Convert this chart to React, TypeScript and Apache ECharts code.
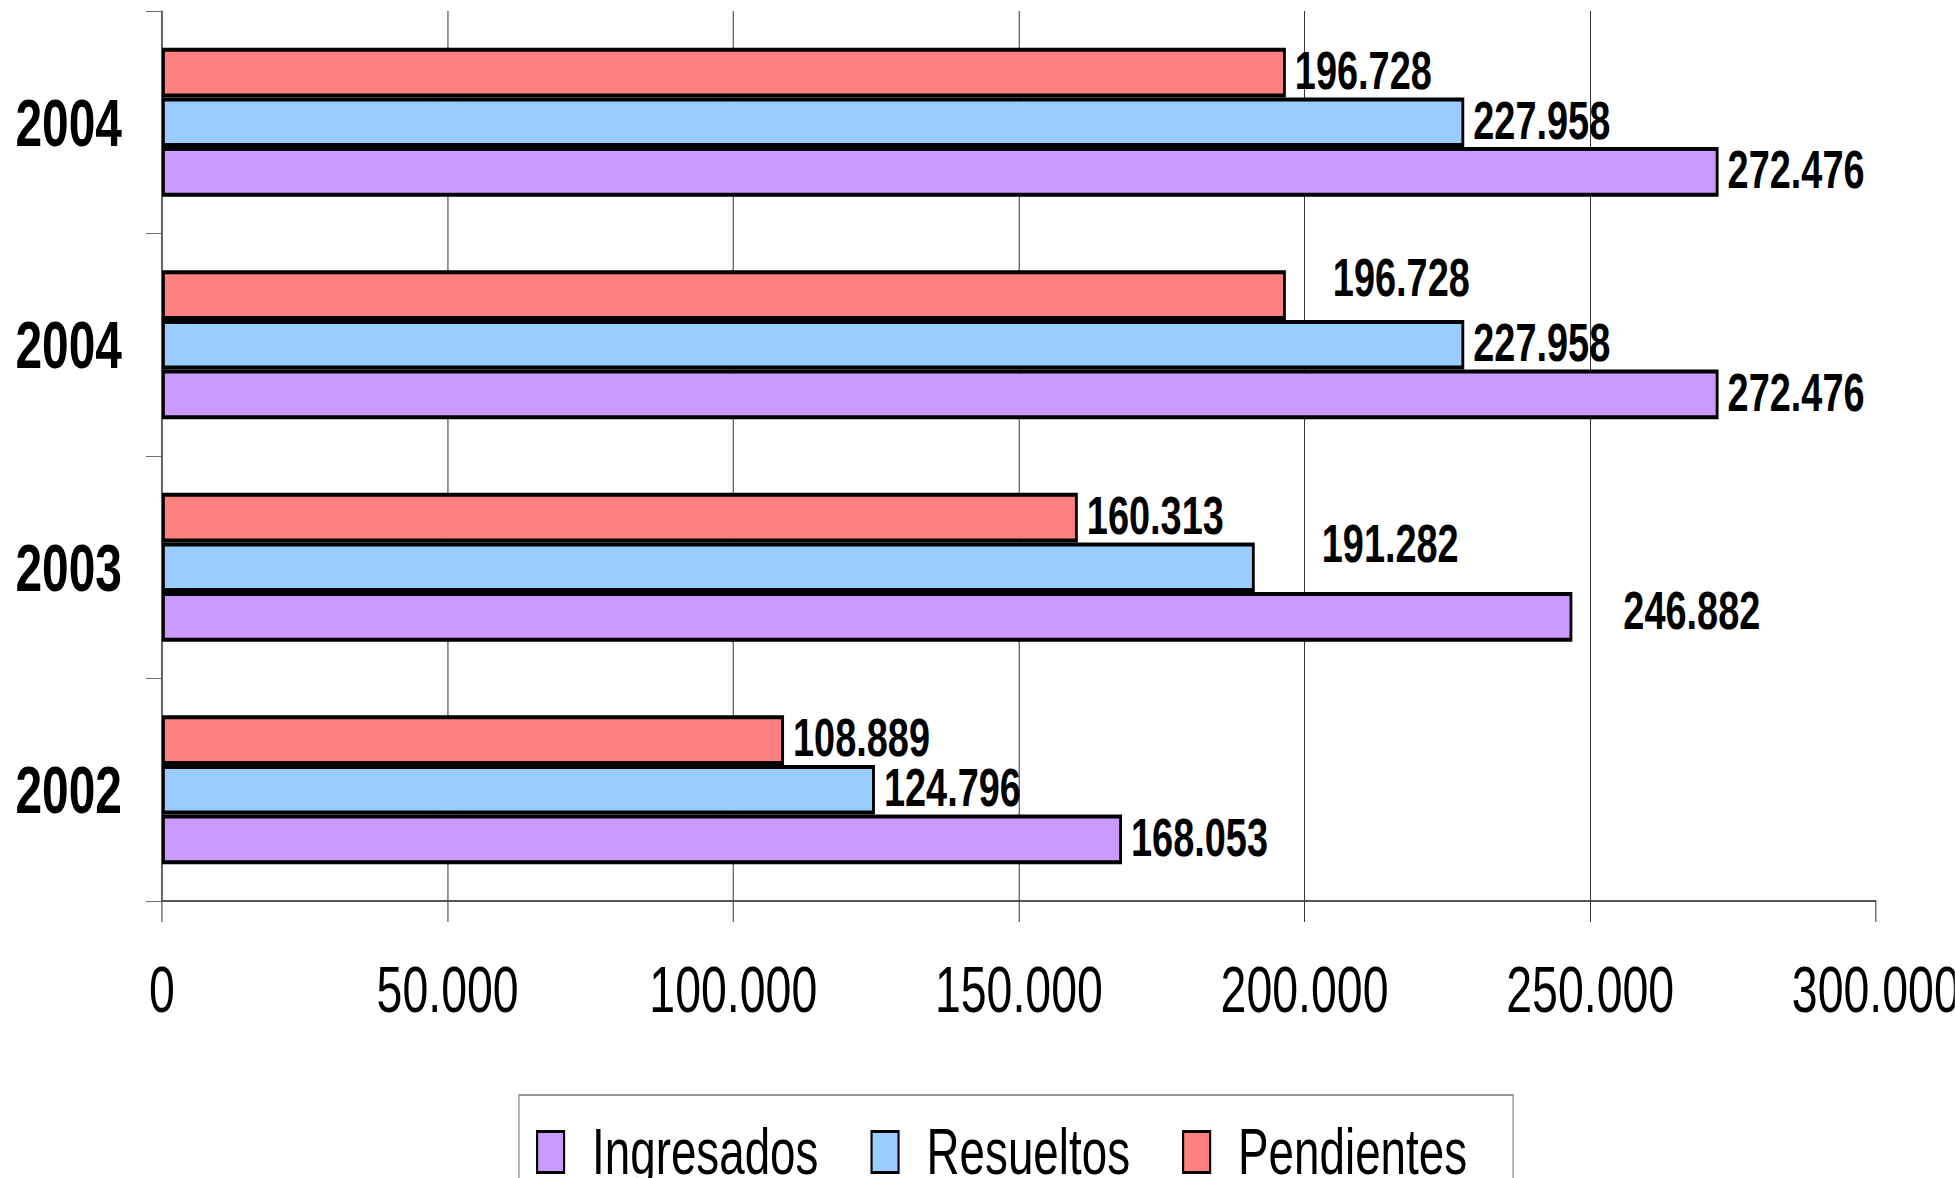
import React, { useEffect, useRef } from 'react';
import * as echarts from 'echarts';

// ---- data ----
const years = ['2002', '2003', '2004', '2004'];
const ingresados = [168053, 246882, 272476, 272476];
const resueltos = [124796, 191282, 227958, 227958];
const pendientes = [108889, 160313, 196728, 196728];
const seriesNames = ['Ingresados', 'Resueltos', 'Pendientes'];
const xMin = 0;
const xMax = 300000;
const xStep = 50000;

// The original uses a tall, narrow (condensed) typeface. The chart is laid out
// in a wider coordinate space and compressed horizontally by SX.
const SX = 0.715;
const PAGE_W = 1955;
const PAGE_H = 1178;
const X = (px: number) => px / SX;

const FONT = "'Liberation Sans', Arial, sans-serif";

function fmt(v: number): string {
  return String(Math.round(v)).replace(/\B(?=(\d{3})+(?!\d))/g, '.');
}

export default function App() {
  const ref = useRef<HTMLDivElement>(null);

  useEffect(() => {
    if (!ref.current) return;
    const chart = echarts.init(ref.current, null, { renderer: 'svg' });

    // label nudges (page px) for the labels that are displaced in the original
    const nudges: Record<string, Record<number, [number, number]>> = {
      Pendientes: { 2: [38, -15] },
      Resueltos: { 1: [58, -22] },
      Ingresados: { 1: [42, -4] },
    };

    const mk = (name: string, values: number[], color: string) => ({
      name,
      type: 'bar',
      barGap: '0%',
      barCategoryGap: '33%',
      itemStyle: { color, borderColor: '#000', borderWidth: 4 },
      label: {
        show: true,
        position: 'right',
        distance: X(9),
        offset: [0, -2],
        formatter: (p: any) => fmt(p.value),
        fontFamily: FONT,
        fontWeight: 'bold',
        fontSize: 53,
        color: '#000',
      },
      data: values.map((v, i) => {
        const n = nudges[name] && nudges[name][i];
        return n ? { value: v, label: { offset: [X(n[0]), n[1] - 2] } } : v;
      }),
    });

    chart.setOption({
      animation: false,
      backgroundColor: '#fff',
      grid: {
        left: X(162),
        right: X(79),
        top: 11,
        bottom: 277,
        containLabel: false,
        outerBoundsMode: 'none',
      },
      legend: {
        data: seriesNames,
        left: X(519),
        top: 1095,
        orient: 'horizontal',
        icon: 'rect',
        padding: [25, X(46), 20, X(17)],
        itemGap: X(52),
        itemWidth: X(27),
        itemHeight: 41,
        borderColor: '#777',
        borderWidth: 1.5,
        itemStyle: { borderColor: '#000', borderWidth: 3 },
        textStyle: {
          fontFamily: FONT,
          fontSize: 64,
          color: '#000',
          padding: [0, 0, 0, X(28) - 5],
        },
      },
      xAxis: {
        type: 'value',
        min: xMin,
        max: xMax,
        interval: xStep,
        axisLine: { show: true, lineStyle: { color: '#555', width: 2 } },
        axisTick: { show: true, length: 21, lineStyle: { color: '#333', width: 1.4 } },
        splitLine: { show: true, showMaxLine: false, lineStyle: { color: '#333', width: 1.4 } },
        axisLabel: {
          formatter: (v: number) => fmt(v),
          fontFamily: FONT,
          fontSize: 65,
          color: '#000',
          margin: 56,
          showMaxLabel: true,
          hideOverlap: false,
        },
      },
      yAxis: {
        type: 'category',
        data: years,
        axisLine: { show: true, lineStyle: { color: '#333', width: 1.4 } },
        axisTick: { show: true, length: X(16), lineStyle: { color: '#555', width: 1 } },
        axisLabel: {
          fontFamily: FONT,
          fontWeight: 'bold',
          fontSize: 67,
          color: '#000',
          margin: X(40),
        },
      },
      series: [
        mk('Pendientes', pendientes, '#FF8080'),
        mk('Resueltos', resueltos, '#99CCFF'),
        mk('Ingresados', ingresados, '#CC99FF'),
      ],
    });

    return () => chart.dispose();
  }, []);

  return (
    <div
      style={{
        position: 'absolute',
        left: 0,
        top: 0,
        width: PAGE_W,
        height: PAGE_H,
        overflow: 'hidden',
        background: '#fff',
      }}
    >
      <div
        ref={ref}
        style={{
          width: X(PAGE_W),
          height: PAGE_H,
          transform: `scaleX(${SX})`,
          transformOrigin: '0 0',
        }}
      />
    </div>
  );
}
